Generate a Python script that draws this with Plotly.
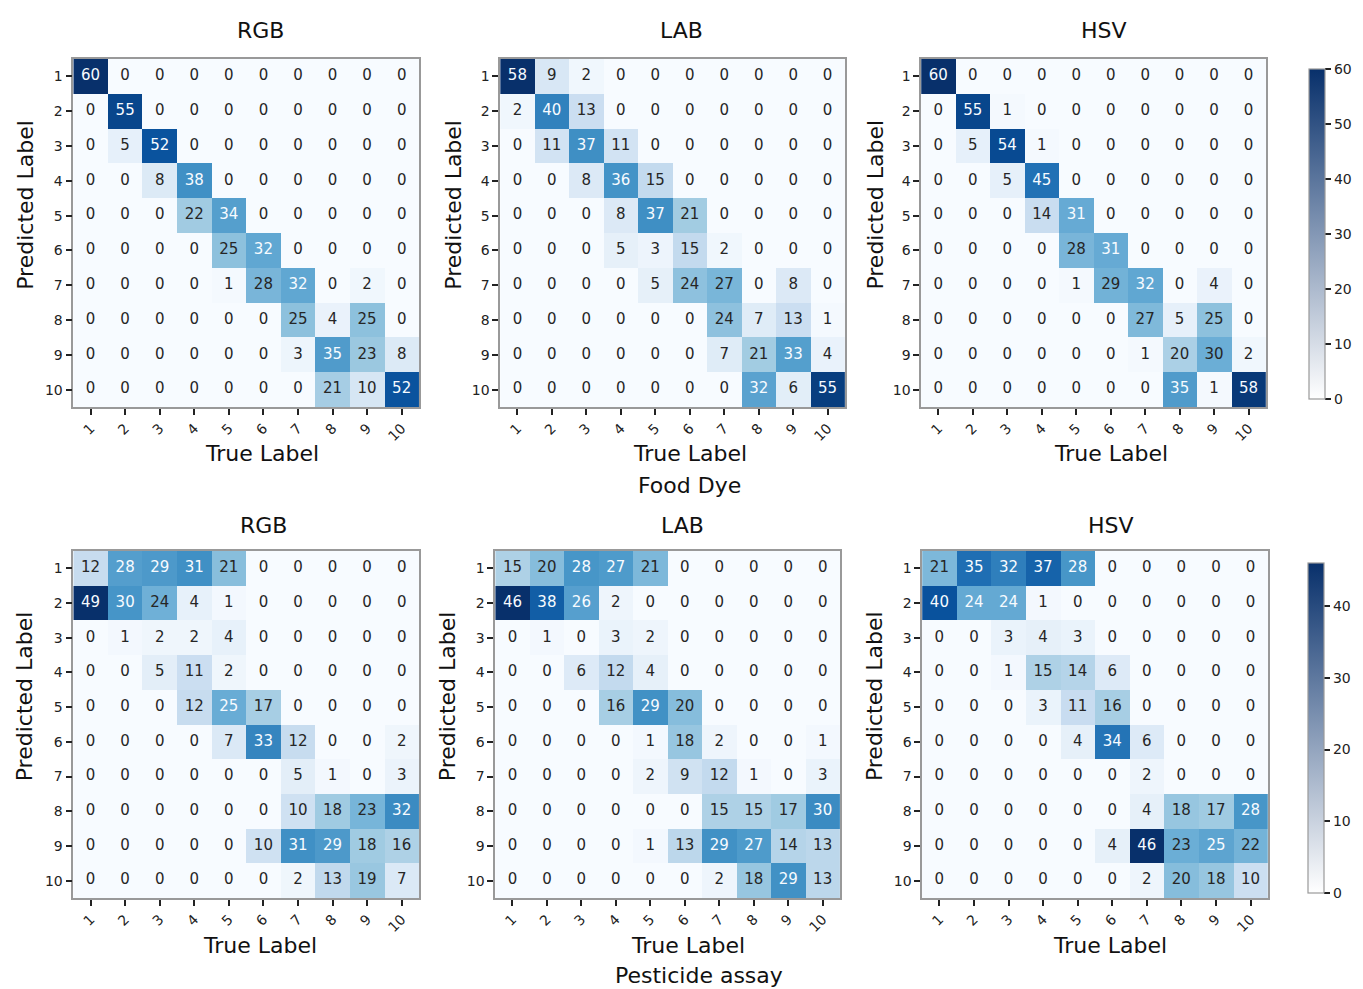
import plotly.graph_objects as go
import plotly.express as px

W, H = 1363, 989
labels = list(range(1, 11))
tick_text = [str(i) for i in labels]

food_rgb = [
    [60, 0, 0, 0, 0, 0, 0, 0, 0, 0],
    [0, 55, 0, 0, 0, 0, 0, 0, 0, 0],
    [0, 5, 52, 0, 0, 0, 0, 0, 0, 0],
    [0, 0, 8, 38, 0, 0, 0, 0, 0, 0],
    [0, 0, 0, 22, 34, 0, 0, 0, 0, 0],
    [0, 0, 0, 0, 25, 32, 0, 0, 0, 0],
    [0, 0, 0, 0, 1, 28, 32, 0, 2, 0],
    [0, 0, 0, 0, 0, 0, 25, 4, 25, 0],
    [0, 0, 0, 0, 0, 0, 3, 35, 23, 8],
    [0, 0, 0, 0, 0, 0, 0, 21, 10, 52],
]
food_lab = [
    [58, 9, 2, 0, 0, 0, 0, 0, 0, 0],
    [2, 40, 13, 0, 0, 0, 0, 0, 0, 0],
    [0, 11, 37, 11, 0, 0, 0, 0, 0, 0],
    [0, 0, 8, 36, 15, 0, 0, 0, 0, 0],
    [0, 0, 0, 8, 37, 21, 0, 0, 0, 0],
    [0, 0, 0, 5, 3, 15, 2, 0, 0, 0],
    [0, 0, 0, 0, 5, 24, 27, 0, 8, 0],
    [0, 0, 0, 0, 0, 0, 24, 7, 13, 1],
    [0, 0, 0, 0, 0, 0, 7, 21, 33, 4],
    [0, 0, 0, 0, 0, 0, 0, 32, 6, 55],
]
food_hsv = [
    [60, 0, 0, 0, 0, 0, 0, 0, 0, 0],
    [0, 55, 1, 0, 0, 0, 0, 0, 0, 0],
    [0, 5, 54, 1, 0, 0, 0, 0, 0, 0],
    [0, 0, 5, 45, 0, 0, 0, 0, 0, 0],
    [0, 0, 0, 14, 31, 0, 0, 0, 0, 0],
    [0, 0, 0, 0, 28, 31, 0, 0, 0, 0],
    [0, 0, 0, 0, 1, 29, 32, 0, 4, 0],
    [0, 0, 0, 0, 0, 0, 27, 5, 25, 0],
    [0, 0, 0, 0, 0, 0, 1, 20, 30, 2],
    [0, 0, 0, 0, 0, 0, 0, 35, 1, 58],
]
pest_rgb = [
    [12, 28, 29, 31, 21, 0, 0, 0, 0, 0],
    [49, 30, 24, 4, 1, 0, 0, 0, 0, 0],
    [0, 1, 2, 2, 4, 0, 0, 0, 0, 0],
    [0, 0, 5, 11, 2, 0, 0, 0, 0, 0],
    [0, 0, 0, 12, 25, 17, 0, 0, 0, 0],
    [0, 0, 0, 0, 7, 33, 12, 0, 0, 2],
    [0, 0, 0, 0, 0, 0, 5, 1, 0, 3],
    [0, 0, 0, 0, 0, 0, 10, 18, 23, 32],
    [0, 0, 0, 0, 0, 10, 31, 29, 18, 16],
    [0, 0, 0, 0, 0, 0, 2, 13, 19, 7],
]
pest_lab = [
    [15, 20, 28, 27, 21, 0, 0, 0, 0, 0],
    [46, 38, 26, 2, 0, 0, 0, 0, 0, 0],
    [0, 1, 0, 3, 2, 0, 0, 0, 0, 0],
    [0, 0, 6, 12, 4, 0, 0, 0, 0, 0],
    [0, 0, 0, 16, 29, 20, 0, 0, 0, 0],
    [0, 0, 0, 0, 1, 18, 2, 0, 0, 1],
    [0, 0, 0, 0, 2, 9, 12, 1, 0, 3],
    [0, 0, 0, 0, 0, 0, 15, 15, 17, 30],
    [0, 0, 0, 0, 1, 13, 29, 27, 14, 13],
    [0, 0, 0, 0, 0, 0, 2, 18, 29, 13],
]
pest_hsv = [
    [21, 35, 32, 37, 28, 0, 0, 0, 0, 0],
    [40, 24, 24, 1, 0, 0, 0, 0, 0, 0],
    [0, 0, 3, 4, 3, 0, 0, 0, 0, 0],
    [0, 0, 1, 15, 14, 6, 0, 0, 0, 0],
    [0, 0, 0, 3, 11, 16, 0, 0, 0, 0],
    [0, 0, 0, 0, 4, 34, 6, 0, 0, 0],
    [0, 0, 0, 0, 0, 0, 2, 0, 0, 0],
    [0, 0, 0, 0, 0, 0, 4, 18, 17, 28],
    [0, 0, 0, 0, 0, 4, 46, 23, 25, 22],
    [0, 0, 0, 0, 0, 0, 2, 20, 18, 10],
]

matrices = [food_rgb, food_lab, food_hsv, pest_rgb, pest_lab, pest_hsv]
titles = ["RGB", "LAB", "HSV", "RGB", "LAB", "HSV"]
colorbar_max = [60, 46]
colorbar_ticks = [[0, 10, 20, 30, 40, 50, 60], [0, 10, 20, 30, 40]]
row_titles = ["Food Dye", "Pesticide assay"]

# pixel layout (left, right, top, bottom)
boxes = [
    (74, 423, 59, 407), (505, 853, 59, 407), (930, 1278, 59, 407),
    (74, 423, 551, 898), (500, 848, 551, 898), (931, 1280, 551, 898),
]
title_y = [30, 30, 30, 525, 525, 525]
title_x = [263, 688, 1115, 266, 689, 1122]
xlabel_y = [453, 453, 453, 945, 945, 945]
xlabel_x = [265, 697, 1122, 263, 695, 1121]
ylabel_x = [25, 457, 883, 25, 452, 883]

FONT = "DejaVu Sans"
blues = px.colors.sequential.Blues
cb_scale = [[0, "#ffffff"], [1, "#08306b"]]

fig = go.Figure()
annotations = []
layout_axes = {}


def px2x(p):
    return p / W


def px2y(p):
    return 1 - p / H


def label(text, x, y, size=22, angle=0):
    return dict(text=text, x=px2x(x), y=px2y(y), xref="paper", yref="paper",
                xanchor="center", yanchor="middle", showarrow=False, textangle=angle,
                font=dict(family=FONT, size=size, color="#111"))


for i, (m, box) in enumerate(zip(matrices, boxes)):
    n = i + 1
    xa = "x" if n == 1 else f"x{n}"
    ya = "y" if n == 1 else f"y{n}"
    mmax = max(max(r) for r in m)
    fig.add_trace(go.Heatmap(
        z=m, x=labels, y=labels, colorscale=blues, zmin=0, zmax=mmax,
        showscale=False, xaxis=xa, yaxis=ya, hoverinfo="skip",
    ))
    for color, light in (("#f7fbff", True), ("#262626", False)):
        xs, ys, ts = [], [], []
        for r, row in enumerate(m):
            for c, v in enumerate(row):
                if (v > mmax / 2) == light:
                    xs.append(labels[c]); ys.append(labels[r]); ts.append(str(v))
        fig.add_trace(go.Scatter(
            x=xs, y=ys, text=ts, mode="text", xaxis=xa, yaxis=ya,
            textfont=dict(family=FONT, size=15, color=color),
            showlegend=False, hoverinfo="skip",
        ))
    l, r_, t, b = box
    axname_x = "xaxis" if n == 1 else f"xaxis{n}"
    axname_y = "yaxis" if n == 1 else f"yaxis{n}"
    common = dict(
        tickmode="array", tickvals=labels, ticktext=tick_text,
        ticks="outside", ticklen=6, tickwidth=1.5, tickcolor="#222",
        showline=True, mirror=True, linecolor="#999", linewidth=1.5,
        showgrid=False, zeroline=False,
        tickfont=dict(family=FONT, size=14, color="#222"),
    )
    layout_axes[axname_x] = dict(domain=[px2x(l), px2x(r_)], anchor=ya, range=[0.5, 10.5],
                                 tickangle=-45, **common)
    layout_axes[axname_y] = dict(domain=[px2y(b), px2y(t)], anchor=xa, range=[10.5, 0.5],
                                 **common)
    annotations.append(label(titles[i], title_x[i], title_y[i]))
    annotations.append(label("True Label", xlabel_x[i], xlabel_y[i]))
    annotations.append(label("Predicted Label", ylabel_x[i], (t + b) / 2 - 28, angle=-90))

annotations.append(label(row_titles[0], 696, 485))
annotations.append(label(row_titles[1], 706, 975))

# colorbars
cb_boxes = [(1312, 59, 409), (1310, 553, 903)]
for k in range(2):
    cx, ct, cbot = cb_boxes[k]
    axn = 3 if k == 0 else 6
    fig.add_trace(go.Scatter(
        x=[5, 5], y=[5, 5], mode="markers", xaxis=f"x{axn}", yaxis=f"y{axn}",
        marker=dict(color=[0, colorbar_max[k]], colorscale=cb_scale, cmin=0, cmax=colorbar_max[k],
                    opacity=0, size=1, showscale=True,
                    colorbar=dict(
                        x=px2x(cx), xanchor="left", y=px2y(ct), yanchor="top",
                        len=(cbot - ct) / H, lenmode="fraction", thickness=16,
                        outlinewidth=1.2, outlinecolor="#999",
                        tickmode="array", tickvals=colorbar_ticks[k],
                        ticks="outside", ticklen=6, tickcolor="#222", tickwidth=1.5,
                        tickfont=dict(family=FONT, size=14, color="#222"),
                    )),
        showlegend=False, hoverinfo="skip",
    ))

fig.update_layout(
    width=W, height=H, autosize=False, margin=dict(l=0, r=0, t=0, b=0),
    paper_bgcolor="white", plot_bgcolor="white", showlegend=False,
    annotations=annotations, **layout_axes,
)
fig.write_html(
    "out.html",
    config={"displayModeBar": False, "responsive": False},
    post_script=(
        "document.body.style.margin='0px';document.body.style.overflow='hidden';"
        "var gd=document.getElementById('{plot_id}');"
        "Plotly.relayout(gd,{width:%d,height:%d,autosize:false});" % (W, H)
    ),
)
